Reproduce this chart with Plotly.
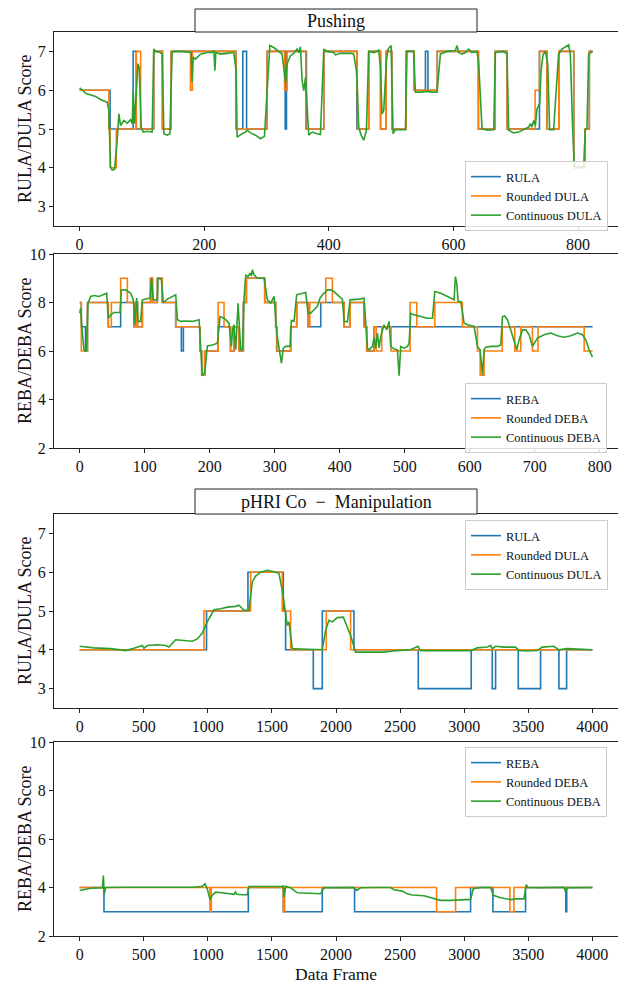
import plotly.graph_objects as go

# ---------------- Pushing : RULA / DULA ----------------
p_rula_x = [0, 49, 86, 91, 119, 133, 147, 251, 262, 268, 301, 330, 332, 364, 392, 445, 464, 483, 492, 501,
            524, 537, 555, 559, 574, 640, 667, 686, 738, 750, 769, 793, 811, 818]
p_rula_y = [6, 5, 7, 5, 7, 5, 7, 5, 7, 5, 7, 5, 7, 5, 7, 5, 7, 5, 7, 5,
            7, 6, 7, 6, 7, 5, 7, 5, 7, 5, 7, 4, 5, 7]
p_dula_x = [0, 47, 49, 59, 91, 98, 119, 133, 147, 178, 181, 251, 301, 329, 333, 363, 392, 445, 446, 464,
            483, 492, 501, 524, 537, 574, 640, 667, 686, 731, 738, 750, 769, 793, 811, 818]
p_dula_y = [6, 5, 4, 5, 7, 5, 7, 5, 7, 6, 7, 5, 7, 6, 7, 5, 7, 6, 5, 7,
            5, 7, 5, 7, 6, 7, 5, 7, 5, 6, 7, 5, 7, 4, 5, 7]
p_end_1 = 823
p_cdula_x = [0, 4.3, 9.6, 17.6, 25.7, 33.7, 41.7, 44.4, 47.0, 49.7, 52.4, 56.1, 60.4, 63.1, 65.8, 71.1, 76.5,
             81.8, 84.5, 86.1, 88.2, 91.4, 93.6, 95.7, 98.9, 102.1, 108.5, 116.5, 119.2, 121.9, 129.9, 132.6,
             135.3, 140.6, 144.9, 148.6, 151.3, 162.0, 172.7, 179.1, 180.7, 182.3, 186.0, 194.1, 204.8, 212.8,
             215.5, 217.1, 218.7, 226.1, 236.8, 247.5, 251.3, 252.9, 260.9, 266.2, 268.9, 274.3, 282.3, 290.3,
             296.7, 301.0, 305.3, 311.7, 319.7, 325.1, 330.4, 333.1, 338.4, 343.8, 349.1, 351.8, 354.4, 357.1,
             359.8, 362.5, 367.8, 373.2, 381.2, 386.5, 391.9, 397.2, 407.9, 410.6, 418.6, 434.6,
             440.0, 444.3, 448.0, 451.8, 456.0, 460.3, 464.0, 472.1, 480.1, 482.8, 485.4, 488.1, 492.4, 495.1,
             499.9, 503.1, 506.8, 522.9, 525.5, 536.2, 538.9, 546.9, 557.6, 565.6, 573.6, 579.0, 589.7, 603.0,
             605.7, 608.4, 613.7, 619.1, 624.4, 629.8, 637.8, 640.5, 645.8, 653.9, 664.6, 667.2, 680.6, 685.9,
             688.6, 696.6, 704.6, 715.3, 720.7, 723.4, 726.0, 728.7, 731.4, 734.1, 738.3, 740.5, 743.7, 747.4,
             751.2, 754.3, 760.7, 768.7, 774.1, 784.8, 787.5, 791.2, 793.9, 798.2, 808.9, 811.5, 814.2, 816.9,
             823.3]
p_cdula_y = [6.06, 6.01, 5.92, 5.88, 5.84, 5.76, 5.72, 5.69, 5.48, 4.03, 3.94, 3.96, 4.71, 5.39, 5.09, 5.22, 5.15,
             5.24, 5.14, 5.99, 5.14, 5.91, 6.68, 6.59, 5.05, 4.92, 4.94, 4.92, 7.06, 7.0, 6.97, 6.93,
             4.88, 4.84, 4.88, 6.97, 7.0, 7.0, 6.97, 6.97, 6.21, 6.85, 6.80, 6.93, 6.97, 6.97,
             7.02, 6.50, 6.97, 6.93, 6.95, 6.97, 6.50, 4.79, 4.88, 4.92, 4.97, 4.90, 4.84, 4.75,
             4.81, 5.99, 7.15, 7.10, 7.0, 6.93, 6.21, 6.68, 6.89, 6.95, 7.06, 6.97, 7.12, 6.25,
             5.99, 6.33, 4.84, 4.92, 4.88, 4.86, 7.06, 7.0, 6.97, 6.91, 6.95, 6.95,
             6.93, 6.50, 5.05, 4.84, 4.71, 4.97, 7.0, 6.97, 7.03, 6.59, 5.39, 5.48, 6.76, 7.06,
             7.15, 4.88, 4.98, 4.98, 7.0, 7.0, 5.95, 5.95, 5.97, 5.95, 5.95, 6.93, 7.0, 7.02,
             7.15, 6.97, 6.93, 6.97, 7.06, 6.97, 7.0, 6.68, 5.01, 4.97, 4.98, 6.97, 7.0, 6.93,
             4.97, 4.90, 4.92, 5.01, 5.05, 5.14, 5.05, 5.22, 5.09, 5.52, 5.65, 6.50, 6.91, 7.0,
             6.68, 4.98, 4.98, 6.93, 7.06, 7.17, 6.93, 5.05, 4.07, 4.01, 4.03, 4.97, 5.01, 6.93,
             7.0]

# ---------------- Pushing : REBA / DEBA ----------------
p_reba_x = [0, 2.5, 9, 12, 44, 63, 83.6, 87, 89, 96.4, 109, 112, 119.5, 127, 147.7, 156.4, 159.5, 185, 187.7,
            192.3, 213, 232, 237.4, 245, 251.8, 256.4, 284.6, 301.5, 303, 324.6, 333.8, 351.3, 370.8, 406.7,
            416, 437.4, 441.5, 452.8]
p_reba_y = [8, 7, 6, 8, 7, 8, 7, 8, 7, 8, 9, 8, 9, 8, 7, 6, 7, 6, 5,
            6, 7, 6, 7, 6, 8, 9, 8, 7, 6, 7, 8, 7, 8, 7,
            8, 7, 6, 7]
p_deba_x = [0, 2.5, 12, 44, 48.7, 63, 73.3, 83.6, 87, 89, 96.4, 109, 112, 119.5, 127, 147.7, 185, 187.7, 192.3,
            213, 222, 232, 237.4, 245, 251.8, 256.4, 284.6, 301.5, 303.5, 324.6, 333.8, 351.3, 354, 378.5,
            388.7, 406.7, 416, 437.4, 441.5, 452.8, 456, 464.6, 479, 508.2, 518.5, 546.2, 588.7, 611.8, 616,
            622, 650, 669.2, 678.5, 696.4, 705, 776]
p_deba_y = [8, 6, 8, 7, 8, 9, 8, 7, 8, 7, 8, 9, 8, 9, 8, 7, 6, 5, 6,
            8, 7, 6, 7, 6, 8, 9, 8, 7, 6, 7, 8, 7, 8, 9,
            8, 7, 8, 7, 6, 7, 6, 7, 6, 8, 7, 8, 7, 6, 5,
            6, 7, 6, 7, 6, 7, 6]
p_end_2 = 789
p_cdeba_x = [0, 1.5, 4.1, 6.7, 10.3, 12.8, 16.9, 22.1, 29.7, 37.4, 41.5, 44.1, 47.7, 52.8, 62.1, 64.1, 70.8,
             78.5, 82.6, 84.6, 87.7, 89.7, 93.8, 96.4, 104.1, 108.2, 110.3, 113.3, 119.5, 120.5, 125.6, 128.7,
             134.9, 142.6, 147.7, 150.3, 155.4, 163.1, 173.3, 183.6, 186.2, 188.7, 192.3, 196.4, 204.1, 211.8,
             215.9, 222.1, 229.7, 233.3, 235.4, 237.4, 240.0, 243.6, 247.7, 250.3, 252.8, 255.4, 259.0, 262.1,
             264.1, 265.6, 268.2, 273.3, 283.6, 288.7, 293.8, 299.0, 303.1, 306.7, 310.3, 313.3, 316.9, 323.6,
             325.6, 329.7, 333.8, 340.0, 347.7, 351.3, 355.4, 360.5, 365.6, 369.7, 373.3, 378.5, 381.0, 386.2,
             391.3, 399.0, 404.1, 406.7, 411.8,
             415.9, 422.1, 429.7, 437.4, 440.0, 442.6, 445.1, 450.3, 452.8, 455.4, 457.9, 460.5, 463.1, 465.6,
             468.2, 472.3, 475.9, 478.5, 483.6, 488.7, 491.3, 493.8, 499.0, 504.1, 506.7, 509.2, 514.4, 524.6,
             534.9, 542.6, 546.2, 555.4, 565.6, 575.9, 577.9, 580.0, 582.1, 586.2, 591.3, 596.4, 606.7, 611.8,
             615.9, 619.5, 622.1, 624.6, 632.3, 642.6, 647.7, 650.3, 653.8, 657.9, 663.1, 668.2, 672.3, 675.9,
             681.0, 686.2, 691.3, 696.4, 699.0, 704.1, 714.4, 724.6, 734.9, 745.1, 755.4, 765.6, 773.3, 778.5,
             783.6, 788.7]
p_cdeba_y = [7.56, 7.77, 6.74, 6.05, 5.98, 7.97, 8.25, 8.29, 8.25, 8.32, 8.38, 7.35, 7.49, 7.59, 7.59, 8.52, 8.52,
             8.38, 8.11, 7.08, 8.18, 7.22, 7.22, 8.11, 8.14, 8.18, 9.0, 8.11, 8.11, 9.0, 8.96, 8.0,
             8.14, 8.25, 8.32, 7.29, 7.22, 7.24, 7.22, 7.29, 6.05, 4.98, 5.09, 6.21, 6.25, 6.32,
             7.42, 7.35, 7.15, 6.19, 6.94, 7.08, 6.05, 7.97, 6.05, 6.05, 8.14, 9.14, 9.07, 9.21,
             9.10, 9.35, 9.14, 9.0, 9.0, 8.11, 7.97, 8.25, 6.74, 6.19, 5.50, 6.12, 6.19, 6.19,
             7.26, 7.22, 8.32, 8.36, 8.41, 7.56, 7.56, 7.70, 7.84, 8.18, 8.32, 8.45, 8.52, 8.52,
             8.45, 8.25, 8.14, 7.22, 7.20,
             8.11, 8.11, 8.14, 8.18, 7.01, 6.12, 6.05, 6.19, 6.53, 6.12, 6.74, 6.12, 6.60, 6.80,
             7.08, 6.87, 7.22, 6.19, 6.08, 6.05, 4.98, 6.19, 6.12, 6.19, 6.32, 7.56, 7.49, 7.42,
             7.35, 7.35, 8.45, 8.38, 8.25, 8.11, 9.07, 8.80, 8.04, 8.04, 7.15, 7.08, 7.01, 6.19,
             6.05, 5.02, 6.05, 6.16, 6.19, 6.19, 6.25, 7.42, 7.45, 7.29, 6.87, 6.46, 6.05, 6.46,
             6.87, 6.87, 6.67, 6.19, 6.32, 6.53, 6.67, 6.74, 6.63, 6.57, 6.63, 6.74, 6.67, 6.46,
             6.05, 5.75]

# ---------------- pHRI Co-Manipulation : RULA / DULA ----------------
h_rula_x = [0, 990, 1313, 1589, 1607, 1823, 1893, 2140, 2642, 3055, 3219, 3245, 3422, 3596, 3739, 3799]
h_rula_y = [4, 5, 6, 5, 4, 3, 5, 4, 3, 4, 3, 4, 3, 4, 3, 4]
h_dula_x = [0, 970, 1334, 1581, 1646, 1924, 2114]
h_dula_y = [4, 5, 6, 5, 4, 5, 4]
h_end = 4000
h_cdula_x = [0, 112, 242, 359, 424, 489, 502, 528, 606, 671, 697, 749, 814, 879, 918, 957, 996, 1048, 1100,
             1152, 1217, 1243, 1282, 1321, 1347, 1373, 1412, 1464, 1516, 1555, 1581, 1607, 1620, 1633, 1659,
             1724, 1828, 1893, 1919, 1945, 1971, 2010, 2057, 2075, 2114, 2153, 2244, 2374, 2478, 2582, 2639,
             2660, 2816, 3052, 3102, 3180, 3206, 3219, 3245, 3310, 3401, 3427, 3492, 3570, 3609, 3700, 3739,
             3804, 4000]
h_cdula_y = [4.09, 4.05, 4.03, 3.98, 4.04, 4.11, 4.04, 4.11, 4.13, 4.11, 4.07, 4.26, 4.24, 4.22, 4.28, 4.43, 4.72,
             5.03, 5.06, 5.10, 5.12, 5.15, 5.02, 5.02, 5.75, 5.90, 6.0, 6.05, 6.01, 5.97, 5.53, 4.84, 4.63,
             4.72, 4.03, 4.02, 4.0, 4.0, 4.5, 4.76, 4.72, 4.83, 4.84, 4.70, 4.37, 3.94, 3.94, 3.94, 3.98, 4.0,
             4.09, 3.98, 3.98, 3.98, 4.05, 4.07, 4.11, 4.03, 4.09, 4.07, 4.07, 3.98, 3.97, 3.98, 4.07, 4.09,
             4.0, 4.03, 4.0]

# ---------------- pHRI Co-Manipulation : REBA / DEBA ----------------
h_reba_x = [0, 190, 1316, 1589, 1893, 2145, 3050, 3224, 3479, 3793, 3800]
h_reba_y = [4, 3, 4, 3, 4, 3, 4, 3, 4, 3, 4]
h_deba_x = [0, 1017, 1027, 1589, 1600, 2785, 2933, 3357, 3388]
h_deba_y = [4, 3, 4, 3, 4, 3, 4, 3, 4]
h_cdeba_x = [0, 34, 86, 177, 185, 192, 203, 372, 632, 892, 957, 978, 996, 1017, 1035, 1061, 1126, 1204, 1217,
             1225, 1269, 1308, 1321, 1412, 1581, 1589, 1594, 1607, 1646, 1698, 1776, 1880, 1906, 2114, 2140,
             2161, 2192, 2296, 2426, 2452, 2517, 2556, 2595, 2686, 2738, 2816, 2894, 2972, 3050, 3071, 3128,
             3206, 3227, 3284, 3362, 3401, 3466, 3484, 3497, 3596, 3700, 3778, 3791, 3804, 4000]
h_cdeba_y = [3.88, 3.92, 3.97, 3.99, 4.49, 3.72, 4.0, 4.01, 4.01, 4.01, 4.05, 4.15, 3.95, 3.50, 3.68, 3.81, 3.77,
             3.72, 3.81, 3.72, 3.70, 3.70, 4.04, 4.05, 4.04, 4.08, 3.61, 4.05, 3.99, 3.78, 3.77, 3.74, 3.99,
             4.0, 4.0, 3.88, 3.99, 4.0, 4.0, 3.91, 3.85, 3.74, 3.69, 3.66, 3.58, 3.47, 3.47, 3.50, 3.51, 3.95,
             4.0, 4.0, 3.68, 3.58, 3.50, 3.53, 3.53, 4.12, 4.0, 3.99, 3.99, 4.01, 3.81, 3.99, 4.0]

BLUE, ORANGE, GREEN = "#1f77b4", "#ff7f0e", "#2ca02c"
FONT = "Liberation Serif, Times New Roman, serif"
OFF = 8                      # page body margin in the browser
W, H = 626 - OFF, 984 - OFF  # figure size so that it fills the window


def px(x):
    return (x - OFF) / W


def py(y):
    return 1 - (y - OFF) / H


def step(xs, ys, end):
    return list(xs) + [end], list(ys) + [ys[-1]]


fig = go.Figure()

panels = [
    dict(n=1, legend="legend", series=[
        ("RULA", BLUE, step(p_rula_x, p_rula_y, p_end_1), "hv"),
        ("Rounded DULA", ORANGE, step(p_dula_x, p_dula_y, p_end_1), "hv"),
        ("Continuous DULA", GREEN, (p_cdula_x, p_cdula_y), "linear")]),
    dict(n=2, legend="legend2", series=[
        ("REBA", BLUE, step(p_reba_x, p_reba_y, p_end_2), "hv"),
        ("Rounded DEBA", ORANGE, step(p_deba_x, p_deba_y, p_end_2), "hv"),
        ("Continuous DEBA", GREEN, (p_cdeba_x, p_cdeba_y), "linear")]),
    dict(n=3, legend="legend3", series=[
        ("RULA", BLUE, step(h_rula_x, h_rula_y, h_end), "hv"),
        ("Rounded DULA", ORANGE, step(h_dula_x, h_dula_y, h_end), "hv"),
        ("Continuous DULA", GREEN, (h_cdula_x, h_cdula_y), "linear")]),
    dict(n=4, legend="legend4", series=[
        ("REBA", BLUE, step(h_reba_x, h_reba_y, h_end), "hv"),
        ("Rounded DEBA", ORANGE, step(h_deba_x, h_deba_y, h_end), "hv"),
        ("Continuous DEBA", GREEN, (h_cdeba_x, h_cdeba_y), "linear")]),
]

for p in panels:
    n = p["n"]
    for name, col, (xs, ys), shape in p["series"]:
        fig.add_trace(go.Scatter(
            x=xs, y=ys, mode="lines", name=name,
            line=dict(color=col, width=1.6, shape=shape),
            xaxis="x" if n == 1 else f"x{n}", yaxis="y" if n == 1 else f"y{n}",
            legend=p["legend"]))

xdom = [px(54), px(618)]
ax_common = dict(showgrid=False, zeroline=False, showline=True, mirror=True, automargin=False,
                 linecolor="#222", linewidth=1, ticks="outside", ticklen=4, tickwidth=1,
                 tickcolor="#222", tickfont=dict(family=FONT, size=16, color="#111"))

panel_specs = [
    (1, [32, 226], [-41, 864], dict(tickvals=[0, 200, 400, 600, 800]), [2.5, 7.5], [3, 4, 5, 6, 7]),
    (2, [254, 448], [-39.5, 828], dict(tickvals=[0, 100, 200, 300, 400, 500, 600, 700, 800]), [2, 10], [2, 4, 6, 8, 10]),
    (3, [514, 708], [-200, 4200], dict(tickvals=[0, 500, 1000, 1500, 2000, 2500, 3000, 3500, 4000]), [2.5, 7.5], [3, 4, 5, 6, 7]),
    (4, [742, 936], [-200, 4200], dict(tickvals=[0, 500, 1000, 1500, 2000, 2500, 3000, 3500, 4000]), [2, 10], [2, 4, 6, 8, 10]),
]
layout = {}
for n, (top, bot), xr, xt, yr, yt in panel_specs:
    xk = "xaxis" if n == 1 else f"xaxis{n}"
    yk = "yaxis" if n == 1 else f"yaxis{n}"
    xa = "x" if n == 1 else f"x{n}"
    ya = "y" if n == 1 else f"y{n}"
    layout[xk] = dict(domain=xdom, range=xr, anchor=ya, **xt, **ax_common)
    layout[yk] = dict(domain=[py(bot), py(top)], range=yr, anchor=xa, tickvals=yt, **ax_common)

leg_common = dict(x=px(465), xanchor="left", yanchor="top",
                  bgcolor="rgba(255,255,255,0.85)", bordercolor="#cccccc", borderwidth=1,
                  font=dict(family=FONT, size=12.5, color="#111"), tracegroupgap=0,
                  itemwidth=30)
layout["legend"] = dict(y=py(161), **leg_common)
layout["legend2"] = dict(y=py(383), **leg_common)
layout["legend3"] = dict(y=py(520), **leg_common)
layout["legend4"] = dict(y=py(747), **leg_common)

shapes = [
    dict(type="rect", xref="paper", yref="paper", x0=px(195), x1=px(477), y0=py(32), y1=py(9),
         line=dict(color="#222", width=1), fillcolor="white"),
    dict(type="rect", xref="paper", yref="paper", x0=px(195), x1=px(477), y0=py(514), y1=py(489),
         line=dict(color="#222", width=1), fillcolor="white"),
]

annotations = [
    dict(text="Pushing", x=px(336), y=py(20.5), xref="paper", yref="paper", showarrow=False,
         font=dict(family=FONT, size=18, color="#111"), xanchor="center", yanchor="middle"),
    dict(text="pHRI Co\u2002−\u2002Manipulation", x=px(336), y=py(501.5), xref="paper",
         yref="paper", showarrow=False, font=dict(family=FONT, size=18, color="#111"),
         xanchor="center", yanchor="middle"),
    dict(text="Data Frame", x=px(336), y=py(974), xref="paper", yref="paper", showarrow=False,
         font=dict(family=FONT, size=17.5, color="#111"), xanchor="center", yanchor="middle"),
]
for (top, bot), label in [((32, 226), "RULA/DULA Score"), ((254, 448), "REBA/DEBA Score"),
                          ((514, 708), "RULA/DULA Score"), ((742, 936), "REBA/DEBA Score")]:
    annotations.append(dict(text=label, x=px(25), y=py((top + bot) / 2), xref="paper", yref="paper",
                            showarrow=False, textangle=-90,
                            font=dict(family=FONT, size=18, color="#111"),
                            xanchor="center", yanchor="middle"))

fig.update_layout(width=W, height=H, margin=dict(l=0, r=0, t=0, b=0, autoexpand=False),
                  paper_bgcolor="white", plot_bgcolor="white",
                  shapes=shapes, annotations=annotations, **layout)

fig.write_html("out.html")
